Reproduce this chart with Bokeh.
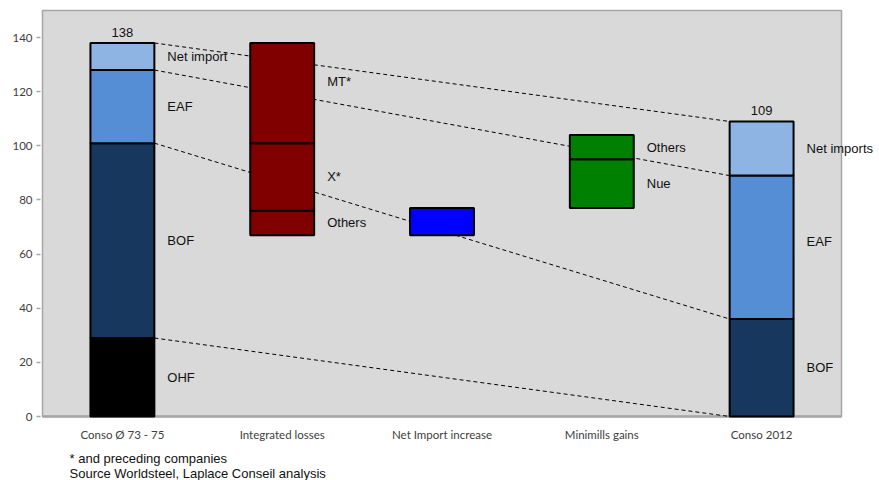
from itertools import accumulate

from bokeh.core.properties import value
from bokeh.embed import file_html
from bokeh.models import ColumnDataSource, FixedTicker, Label, LabelSet, Range1d
from bokeh.plotting import figure
from bokeh.resources import INLINE

# ---------------- data ----------------
categories = ["Conso Ø 73 - 75", "Integrated losses", "Net Import increase",
              "Minimills gains", "Conso 2012"]

conso_7375_parts = ["OHF", "BOF", "EAF", "Net import"]
conso_7375_values = [29, 72, 27, 10]

losses_parts = ["Others", "X*", "MT*"]
losses_values = [9, 25, 37]
losses_base = 67

net_import_parts = [""]
net_import_values = [10]
net_import_base = 67

minimills_parts = ["Nue", "Others"]
minimills_values = [18, 9]
minimills_base = 77

conso_2012_parts = ["BOF", "EAF", "Net imports"]
conso_2012_values = [36, 53, 20]

y_ticks = [0, 20, 40, 60, 80, 100, 120, 140]
y_max = 150

footnotes = ["* and preceding companies", "Source Worldsteel, Laplace Conseil analysis"]

# ---------------- styles / layout ----------------
COL_OHF = "#000000"
COL_BOF = "#17375E"
COL_EAF = "#558ED5"
COL_NET = "#8EB4E3"
COL_LOSS = "#800000"
COL_IMP = "#0000FF"
COL_MINI = "#008000"
PLOT_BG = "#D9D9D9"
FRAME_LINE = "#A6A6A6"
TEXT_FONT = "Liberation Sans"
AXIS_FONT = "Lato"
BAR_W = 0.4
label_nudge = {("Integrated losses", "MT*"): 12, ("Conso 2012", "EAF"): 6}

W, H = 879, 480
PX_X = 159.8          # pixels per category
PX_Y = 2.7066         # pixels per unit
LEFT_PX, TOP_PX = 40, 8
ZERO_FROM_BOTTOM = 64  # px between the value-0 line and the page bottom
PAD_X = 2

groups = [
    (categories[0], conso_7375_parts, conso_7375_values, 0, [COL_OHF, COL_BOF, COL_EAF, COL_NET]),
    (categories[1], losses_parts, losses_values, losses_base, [COL_LOSS] * 3),
    (categories[2], net_import_parts, net_import_values, net_import_base, [COL_IMP]),
    (categories[3], minimills_parts, minimills_values, minimills_base, [COL_MINI] * 2),
    (categories[4], conso_2012_parts, conso_2012_values, 0, [COL_BOF, COL_EAF, COL_NET]),
]

seg = dict(x=[], bottom=[], top=[], color=[], lx=[], ly=[], text=[], yoff=[])
for ci, (cat, parts, vals, base, cols) in enumerate(groups):
    tops = [base + t for t in accumulate(vals)]
    bottoms = [base] + tops[:-1]
    for part, b, t, c in zip(parts, bottoms, tops, cols):
        seg["x"].append(ci + 0.5)
        seg["bottom"].append(b)
        seg["top"].append(t)
        seg["color"].append(c)
        seg["lx"].append(ci + 0.5 + BAR_W / 2)
        seg["ly"].append((b + t) / 2)
        seg["text"].append(part)
        seg["yoff"].append(label_nudge.get((cat, part), 0))
src = ColumnDataSource(seg)

n = len(categories)
left_tops = list(accumulate(conso_7375_values))
right_tops = list(accumulate([0] + conso_2012_values))
conn = ColumnDataSource(dict(
    x0=[0.5 + BAR_W / 2] * len(left_tops),
    y0=left_tops,
    x1=[n - 0.5 - BAR_W / 2] * len(right_tops),
    y1=right_tops,
))

totals = ColumnDataSource(dict(
    x=[0.5, n - 0.5],
    y=[sum(conso_7375_values), sum(conso_2012_values)],
    text=[str(sum(conso_7375_values)), str(sum(conso_2012_values))],
))

cat_src = ColumnDataSource(dict(x=[i + 0.5 for i in range(n)], y=[0] * n, text=categories))

# ---------------- figure ----------------
x_start = -PAD_X / PX_X
x_end = x_start + (W - LEFT_PX) / PX_X
y_start = -ZERO_FROM_BOTTOM / PX_Y
y_end = y_start + (H - TOP_PX) / PX_Y

p = figure(width=W, height=H, output_backend="svg", toolbar_location=None,
           x_range=Range1d(x_start, x_end), y_range=Range1d(y_start, y_end),
           min_border_left=LEFT_PX, min_border_right=0, min_border_top=TOP_PX,
           min_border_bottom=0)
p.background_fill_color = "white"
p.border_fill_color = "white"
p.outline_line_color = None
p.xgrid.visible = False
p.ygrid.visible = False
p.xaxis.visible = False

# grey plot area
p.quad(left=[0], right=[n], bottom=[0], top=[y_max], fill_color=PLOT_BG,
       line_color=FRAME_LINE, line_width=1.5)
p.segment(x0=[0], y0=[0], x1=[n], y1=[0], line_color=FRAME_LINE, line_width=2.5)

p.segment(x0="x0", y0="y0", x1="x1", y1="y1", source=conn,
          line_color="black", line_width=1, line_dash="4 3")

p.vbar(x="x", bottom="bottom", top="top", width=BAR_W, source=src,
       fill_color="color", line_color="black", line_width=2)

p.add_layout(LabelSet(x="lx", y="ly", text="text", source=src, x_offset=13, y_offset="yoff",
                      text_align="left", text_baseline="middle",
                      text_font=value(TEXT_FONT), text_font_size="13px", text_color="#111111"))
p.add_layout(LabelSet(x="x", y="y", text="text", source=totals, y_offset=6,
                      text_align="center", text_baseline="bottom",
                      text_font=value(TEXT_FONT), text_font_size="13px", text_color="#111111"))

# category axis labels
p.add_layout(LabelSet(x="x", y="y", text="text", source=cat_src, y_offset=-18,
                      text_align="center", text_baseline="middle",
                      text_font=value(AXIS_FONT), text_font_size="11.5px",
                      text_color="#404040"))

# footnotes
for i, t in enumerate(footnotes):
    p.add_layout(Label(x=0, y=0, x_offset=27, y_offset=-42 - 15 * i, text=t,
                       text_align="left", text_baseline="middle", text_font=TEXT_FONT,
                       text_font_size="13px", text_color="#111111"))

# y axis
p.yaxis.ticker = FixedTicker(ticks=y_ticks)
p.yaxis.axis_line_color = None
p.yaxis.major_tick_line_color = FRAME_LINE
p.yaxis.major_tick_line_width = 1.5
p.yaxis.major_tick_in = 0
p.yaxis.major_tick_out = 4
p.yaxis.minor_tick_line_color = None
p.yaxis.major_label_text_font = AXIS_FONT
p.yaxis.major_label_text_font_size = "11.5px"
p.yaxis.major_label_text_color = "#404040"
p.yaxis.major_label_standoff = 4

open("out.html", "w").write(file_html(p, INLINE))
